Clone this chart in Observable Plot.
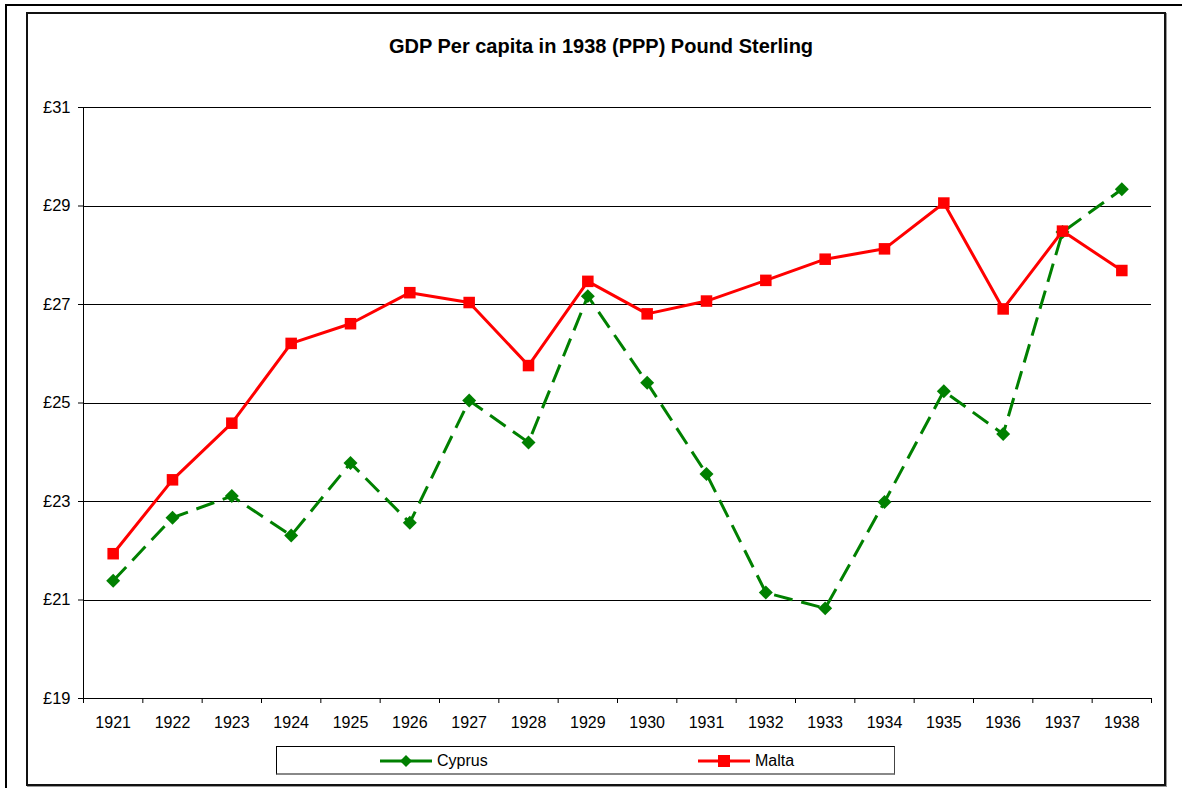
<!DOCTYPE html>
<html>
<head>
<meta charset="utf-8">
<script src="https://cdn.jsdelivr.net/npm/d3@7"></script>
<script src="https://cdn.jsdelivr.net/npm/@observablehq/plot@0.6"></script>
<style>
  body { margin: 0; background: #fff; font-family: "Liberation Sans", Arial, sans-serif; }
  #wrap { position: relative; width: 1182px; height: 788px; overflow: hidden; background: #fff; }
  #chart { position: absolute; left: 0; top: 0; }
  .frame-outer { position: absolute; left: 5px; top: 4px; width: 1200px; height: 800px; border-top: 2px solid #000; border-left: 2px solid #000; pointer-events: none; }
  .frame-inner { position: absolute; left: 26px; top: 12px; width: 1136px; height: 770px; border: 2px solid #111; box-shadow: 1px 1px 0 #999; pointer-events: none; }
  #title { position: absolute; left: 201px; width: 800px; top: 34px; text-align: center; font-weight: bold; font-size: 20px; line-height: 24px; color: #000; }
  #legend { position: absolute; left: 276px; top: 746px; width: 617px; height: 26px; border: 1px solid #000; border-bottom: 2px solid #888; border-right: 1px solid #444; background: #fff; }
  .item { position: absolute; top: 0; height: 27px; display: flex; align-items: center; font-size: 16px; color: #000; }
  .item svg { margin-right: 5px; }
</style>
</head>
<body>
<div id="wrap">
  <div id="chart"></div>
  <div class="frame-outer"></div>
  <div class="frame-inner"></div>
  <div id="title"></div>
  <div id="legend"></div>
</div>
<script>
// ---- Data ----
const title = "GDP Per capita in 1938 (PPP) Pound Sterling";
const years = [1921, 1922, 1923, 1924, 1925, 1926, 1927, 1928, 1929, 1930, 1931, 1932, 1933, 1934, 1935, 1936, 1937, 1938];
const cyprus = [21.39, 22.67, 23.11, 22.31, 23.78, 22.57, 25.05, 24.20, 27.17, 25.41, 23.56, 21.15, 20.83, 22.99, 25.24, 24.37, 28.47, 29.34];
const malta  = [21.94, 23.44, 24.59, 26.21, 26.61, 27.24, 27.04, 25.76, 27.47, 26.81, 27.07, 27.49, 27.92, 28.13, 29.06, 26.91, 28.49, 27.69];
const seriesNames = ["Cyprus", "Malta"];
const yTicks = [19, 21, 23, 25, 27, 29, 31];
const currency = "£";

const cyprusColor = "#008000";
const maltaColor = "#FF0000";

const cyprusData = years.map((year, i) => ({year, value: cyprus[i]}));
const maltaData = years.map((year, i) => ({year, value: malta[i]}));
const boundaries = [years[0] - 0.5, ...years.map(y => y + 0.5)];

document.getElementById("title").textContent = title;

const chart = Plot.plot({
  width: 1182,
  height: 788,
  marginLeft: 83,
  marginRight: 31,
  marginTop: 107,
  marginBottom: 90,
  style: {fontFamily: "'Liberation Sans', Arial, sans-serif", fontSize: "16px", color: "#000", background: "transparent", overflow: "visible"},
  x: {domain: [boundaries[0], boundaries[boundaries.length - 1]]},
  y: {domain: [yTicks[0], yTicks[yTicks.length - 1]]},
  marks: [
    Plot.gridY(yTicks, {stroke: "#000", strokeOpacity: 1, strokeWidth: 1, shapeRendering: "crispEdges"}),
    Plot.frame({anchor: "left", stroke: "#000", strokeWidth: 1, shapeRendering: "crispEdges"}),
    Plot.frame({anchor: "bottom", stroke: "#000", strokeWidth: 1, shapeRendering: "crispEdges"}),
    Plot.axisY(yTicks, {tickSize: 5, tickPadding: 8, tickFormat: d => currency + d, label: null, stroke: "#000", fontSize: 16.5}),
    Plot.axisX(years, {tickSize: 0, tickPadding: 18, tickFormat: d => String(d), label: null, fontSize: 16}),
    Plot.axisX(boundaries, {tickSize: 5, tickFormat: () => "", label: null, stroke: "#000"}),
    Plot.line(cyprusData, {x: "year", y: "value", stroke: cyprusColor, strokeWidth: 3, strokeDasharray: "19,9", strokeLinecap: "butt", strokeLinejoin: "miter"}),
    Plot.dot(cyprusData, {x: "year", y: "value", symbol: "diamond2", r: 6.3, fill: cyprusColor, stroke: "none"}),
    Plot.line(maltaData, {x: "year", y: "value", stroke: maltaColor, strokeWidth: 3, strokeLinejoin: "miter"}),
    Plot.dot(maltaData, {x: "year", y: "value", symbol: "square", r: 6.5, fill: maltaColor, stroke: "none"})
  ]
});
document.getElementById("chart").appendChild(chart);

// ---- Legend ----
const legend = document.getElementById("legend");
const legendItems = [
  {name: seriesNames[0], color: cyprusColor, left: 103, marker: "diamond"},
  {name: seriesNames[1], color: maltaColor, left: 421, marker: "square"}
];
for (const it of legendItems) {
  const div = document.createElement("div");
  div.className = "item";
  div.style.left = it.left + "px";
  const ns = "http://www.w3.org/2000/svg";
  const svg = document.createElementNS(ns, "svg");
  svg.setAttribute("width", 52);
  svg.setAttribute("height", 14);
  if (it.marker === "diamond") {
    const l1 = document.createElementNS(ns, "line");
    l1.setAttribute("x1", 0); l1.setAttribute("x2", 22); l1.setAttribute("y1", 7); l1.setAttribute("y2", 7);
    l1.setAttribute("stroke", it.color); l1.setAttribute("stroke-width", 3);
    const l2 = document.createElementNS(ns, "line");
    l2.setAttribute("x1", 30); l2.setAttribute("x2", 52); l2.setAttribute("y1", 7); l2.setAttribute("y2", 7);
    l2.setAttribute("stroke", it.color); l2.setAttribute("stroke-width", 3);
    const p = document.createElementNS(ns, "path");
    p.setAttribute("d", "M26,1 L32,7 L26,13 L20,7 Z");
    p.setAttribute("fill", it.color);
    svg.append(l1, l2, p);
  } else {
    const l = document.createElementNS(ns, "line");
    l.setAttribute("x1", 0); l.setAttribute("x2", 52); l.setAttribute("y1", 7); l.setAttribute("y2", 7);
    l.setAttribute("stroke", it.color); l.setAttribute("stroke-width", 3);
    const r = document.createElementNS(ns, "rect");
    r.setAttribute("x", 20); r.setAttribute("y", 1); r.setAttribute("width", 12); r.setAttribute("height", 12);
    r.setAttribute("fill", it.color);
    svg.append(l, r);
  }
  const span = document.createElement("span");
  span.textContent = it.name;
  div.append(svg, span);
  legend.appendChild(div);
}
</script>
</body>
</html>
